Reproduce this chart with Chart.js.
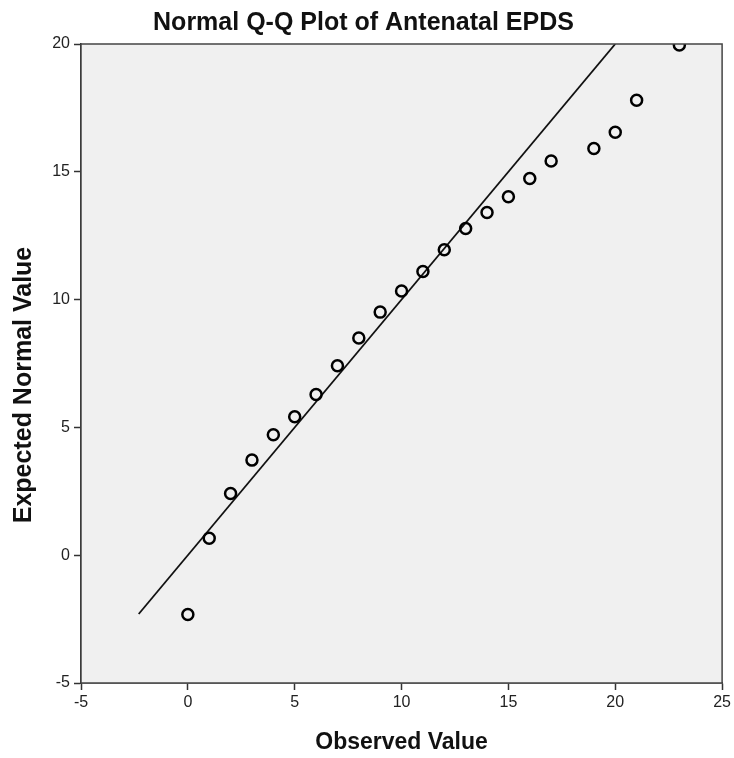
<!DOCTYPE html>
<html>
<head>
<meta charset="utf-8">
<script src="https://cdn.jsdelivr.net/npm/chart.js@4.4.1/dist/chart.umd.min.js"></script>
<style>
  html, body { margin: 0; padding: 0; background: #fff; }
  #wrap { width: 734px; height: 758px; position: relative; }
</style>
</head>
<body>
<div id="wrap"><canvas id="qq"></canvas></div>
<script>
  // Values
  const observed = [0, 1, 2, 3, 4, 5, 6, 7, 8, 9, 10, 11, 12, 13, 14, 15, 16, 17, 19, 20, 21, 23];
  const expected = [-2.32, 0.66, 2.41, 3.72, 4.71, 5.42, 6.29, 7.41, 8.50, 9.51, 10.34, 11.10,
                    11.95, 12.78, 13.41, 14.02, 14.74, 15.42, 15.91, 16.55, 17.80, 19.96];
  // reference line y = x, as drawn (starts at the lowest expected value)
  const refX = [-2.3, 20];
  const refY = [-2.3, 20];
  const xRange = [-5, 25];
  const yRange = [-5, 20];
  const tickStep = 5;

  const TITLE = 'Normal Q-Q Plot of Antenatal EPDS';
  const X_TITLE = 'Observed Value';
  const Y_TITLE = 'Expected Normal Value';

  const FONT = '"Liberation Sans", Arial, sans-serif';
  const INK = '#222';

  // grey plot panel + closing box (SPSS style)
  const panel = {
    id: 'panel',
    beforeDatasetsDraw(chart) {
      const { ctx, chartArea: a } = chart;
      ctx.save();
      ctx.fillStyle = '#f0f0f0';
      ctx.fillRect(a.left, a.top, a.right - a.left, a.bottom - a.top);
      ctx.restore();
    },
    afterDraw(chart) {
      const { ctx, chartArea: a } = chart;
      ctx.save();
      ctx.strokeStyle = '#444';
      ctx.lineWidth = 1.5;
      ctx.strokeRect(a.left, a.top, a.right - a.left, a.bottom - a.top);
      // y title sits a bit below the panel's middle in the original
      ctx.fillStyle = '#111';
      ctx.font = 'bold 25px ' + FONT;
      ctx.textAlign = 'center';
      ctx.textBaseline = 'middle';
      ctx.translate(24, 385);
      ctx.rotate(-Math.PI / 2);
      ctx.fillText(Y_TITLE, 0, 0);
      ctx.restore();
    },
  };

  const TICKS = { color: INK, font: { family: FONT, size: 16 } };
  const GRID = { display: true, drawOnChartArea: false, drawTicks: true, tickLength: 7,
                 tickColor: '#333', tickWidth: 1.5 };

  new Chart(document.getElementById('qq'), {
    type: 'scatter',
    data: {
      datasets: [
        {
          label: 'Observed',
          data: observed.map((x, i) => ({ x, y: expected[i] })),
          pointStyle: 'circle', pointRadius: 5.5, pointBorderWidth: 2.5,
          borderColor: '#000', backgroundColor: 'rgba(0,0,0,0)',
          pointHoverRadius: 5.5, clip: 0,
        },
        {
          label: 'Reference',
          type: 'line',
          data: refX.map((x, i) => ({ x, y: refY[i] })),
          borderColor: '#111', borderWidth: 1.8, pointRadius: 0, fill: false,
          clip: 0,
        },
      ],
    },
    options: {
      responsive: true, maintainAspectRatio: false, animation: false,
      layout: { padding: { left: 0, right: 7, top: 0, bottom: 0 } },
      plugins: {
        legend: { display: false },
        tooltip: { enabled: false },
        title: {
          display: true, text: TITLE, color: '#111',
          font: { family: FONT, size: 25, weight: 'bold', lineHeight: 1.2 },
          padding: { top: 8, bottom: 6 },
        },
      },
      scales: {
        x: {
          type: 'linear', min: xRange[0], max: xRange[1],
          ticks: { ...TICKS, stepSize: tickStep, padding: 3, maxRotation: 0 },
          grid: GRID,
          border: { display: true, color: '#222', width: 1.5 },
          title: {
            display: true, text: X_TITLE, color: '#111',
            font: { family: FONT, size: 23, weight: 'bold', lineHeight: 1.2 },
            padding: { top: 0, bottom: 2 },
          },
          afterFit(s) { s.height = 75; },
        },
        y: {
          type: 'linear', min: yRange[0], max: yRange[1],
          ticks: { ...TICKS, stepSize: tickStep, padding: 4 },
          grid: GRID,
          border: { display: true, color: '#222', width: 1.5 },
          afterFit(s) { s.width = 81; },
        },
      },
    },
    plugins: [panel],
  });
</script>
</body>
</html>
